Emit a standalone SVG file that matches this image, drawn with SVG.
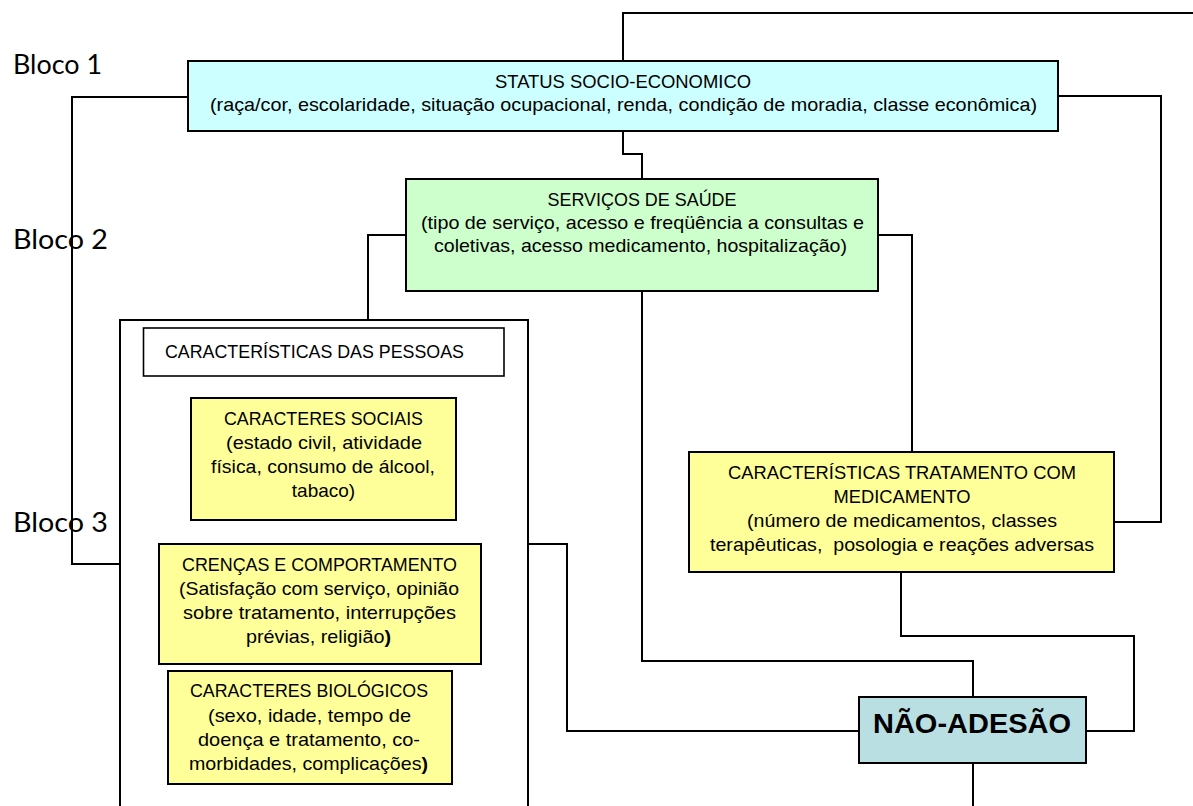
<svg xmlns="http://www.w3.org/2000/svg" width="1193" height="806" viewBox="0 0 1193 806">
<style>
.bg{fill:#ffffff}
.box{stroke:#000;stroke-width:2}
.conn{fill:none;stroke:#000;stroke-width:2}
.t{font-family:"Liberation Sans",Arial,sans-serif;font-size:19px;fill:#000;text-anchor:middle}
.bloco{font-family:Lato,"Open Sans",sans-serif;font-size:26px;fill:#000}
.big{font-family:"Liberation Sans",Arial,sans-serif;font-size:28px;font-weight:bold;fill:#000;text-anchor:middle}
</style>
<rect class="bg" x="0" y="0" width="1193" height="806"/>
<g id="labels">
<text class="bloco" x="13" y="74" textLength="89" lengthAdjust="spacingAndGlyphs">Bloco 1</text>
<text class="bloco" x="13" y="249" textLength="95" lengthAdjust="spacingAndGlyphs">Bloco 2</text>
<text class="bloco" x="13" y="532" textLength="95" lengthAdjust="spacingAndGlyphs">Bloco 3</text>
</g>
<g id="connectors">
<polyline class="conn" points="623,61 623,13 1193,13"/>
<polyline class="conn" points="1058,96 1161,96 1161,522 1114,522"/>
<polyline class="conn" points="188,97 72,97 72,564 120,564"/>
<polyline class="conn" points="623,131 623,154 642,154 642,179"/>
<polyline class="conn" points="406,235 368,235 368,320"/>
<polyline class="conn" points="878,235 912,235 912,452"/>
<polyline class="conn" points="642,291 642,661 973,661 973,697"/>
<polyline class="conn" points="901,572 901,636 1134,636 1134,731 1087,731"/>
<polyline class="conn" points="528,544 567,544 567,731 859,731"/>
<polyline class="conn" points="973,763 973,806"/>
</g>
<g id="status">
<rect class="box" x="188" y="61" width="870" height="70" fill="#CCFFFF"/>
<text class="t" x="623" y="88" textLength="256" lengthAdjust="spacingAndGlyphs">STATUS SOCIO-ECONOMICO</text>
<text class="t" x="623.5" y="111" textLength="827" lengthAdjust="spacingAndGlyphs">(raça/cor, escolaridade, situação ocupacional, renda, condição de moradia, classe econômica)</text>
</g>
<g id="servicos">
<rect class="box" x="406" y="179" width="472" height="112" fill="#CCFFCC"/>
<text class="t" x="642" y="206" textLength="189" lengthAdjust="spacingAndGlyphs">SERVIÇOS DE SAÚDE</text>
<text class="t" x="642.5" y="229" textLength="443" lengthAdjust="spacingAndGlyphs">(tipo de serviço, acesso e freqüência a consultas e</text>
<text class="t" x="640.5" y="252" textLength="413" lengthAdjust="spacingAndGlyphs">coletivas, acesso medicamento, hospitalização)</text>
</g>
<g id="pessoas">
<rect class="box" x="120" y="320" width="408" height="500" fill="#ffffff"/>
</g>
<g id="pessoas-titulo">
<rect x="143.5" y="328" width="360.5" height="48" fill="#ffffff" stroke="#000" stroke-width="1.6"/>
<text class="t" x="165" y="358" style="text-anchor:start" textLength="299" lengthAdjust="spacingAndGlyphs">CARACTERÍSTICAS DAS PESSOAS</text>
</g>
<g id="sociais">
<rect class="box" x="191" y="398" width="265" height="122" fill="#FFFF99"/>
<text class="t" x="323.5" y="425" textLength="199" lengthAdjust="spacingAndGlyphs">CARACTERES SOCIAIS</text>
<text class="t" x="324" y="449" textLength="196" lengthAdjust="spacingAndGlyphs">(estado civil, atividade</text>
<text class="t" x="323" y="473" textLength="224" lengthAdjust="spacingAndGlyphs">física, consumo de álcool,</text>
<text class="t" x="323.5" y="497">tabaco)</text>
</g>
<g id="crencas">
<rect class="box" x="159" y="544" width="322" height="120" fill="#FFFF99"/>
<text class="t" x="319.5" y="571" textLength="275" lengthAdjust="spacingAndGlyphs">CRENÇAS E COMPORTAMENTO</text>
<text class="t" x="319" y="595" textLength="280" lengthAdjust="spacingAndGlyphs">(Satisfação com serviço, opinião</text>
<text class="t" x="319.5" y="619" textLength="273" lengthAdjust="spacingAndGlyphs">sobre tratamento, interrupções</text>
<text class="t" x="318.5" y="643" textLength="145" lengthAdjust="spacingAndGlyphs">prévias, religião<tspan font-weight="bold">)</tspan></text>
</g>
<g id="biologicos">
<rect class="box" x="168" y="671" width="284" height="113" fill="#FFFF99"/>
<text class="t" x="309" y="697" textLength="238" lengthAdjust="spacingAndGlyphs">CARACTERES BIOLÓGICOS</text>
<text class="t" x="309.5" y="722" textLength="203" lengthAdjust="spacingAndGlyphs">(sexo, idade, tempo de</text>
<text class="t" x="309" y="746" textLength="222" lengthAdjust="spacingAndGlyphs">doença e tratamento, co-</text>
<text class="t" x="308.5" y="770" textLength="239" lengthAdjust="spacingAndGlyphs">morbidades, complicações<tspan font-weight="bold">)</tspan></text>
</g>
<g id="tratamento">
<rect class="box" x="689" y="452" width="425" height="120" fill="#FFFF99"/>
<text class="t" x="902" y="479" textLength="348" lengthAdjust="spacingAndGlyphs">CARACTERÍSTICAS TRATAMENTO COM</text>
<text class="t" x="902" y="503" textLength="137" lengthAdjust="spacingAndGlyphs">MEDICAMENTO</text>
<text class="t" x="902" y="527" textLength="310" lengthAdjust="spacingAndGlyphs">(número de medicamentos, classes</text>
<text class="t" x="902" y="551" textLength="384" lengthAdjust="spacingAndGlyphs" xml:space="preserve">terapêuticas,  posologia e reações adversas</text>
</g>
<g id="nao-adesao">
<rect class="box" x="859" y="697" width="227" height="66" fill="#BADFE3"/>
<text class="big" x="972" y="733" textLength="198" lengthAdjust="spacingAndGlyphs">NÃO-ADESÃO</text>
</g>
</svg>
